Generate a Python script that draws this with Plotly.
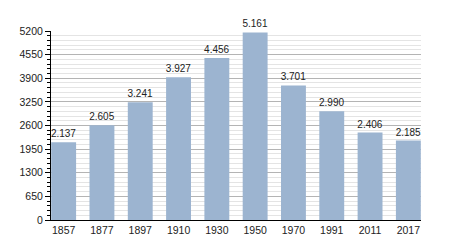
import plotly.graph_objects as go

years = ["1857", "1877", "1897", "1910", "1930", "1950", "1970", "1991", "2011", "2017"]
population = [2137, 2605, 3241, 3927, 4456, 5161, 3701, 2990, 2406, 2185]
y_ticks = [0, 650, 1300, 1950, 2600, 3250, 3900, 4550, 5200]

labels = [f"{v:,}".replace(",", ".") for v in population]

fig = go.Figure(go.Bar(
    x=years, y=population, text=labels, textposition="outside",
    constraintext="none",
    textfont=dict(family="Liberation Sans, Arial, sans-serif", size=10, color="#222"),
    marker=dict(color="#9cb4d0", line=dict(width=0)),
    cliponaxis=False,
))

fig.update_layout(
    width=450, height=250,
    margin=dict(l=51, r=29, t=31, b=30),
    paper_bgcolor="white", plot_bgcolor="white",
    bargap=0.35, showlegend=False,
    font=dict(family="Liberation Sans, Arial, sans-serif", size=10.5, color="#222"),
)
fig.update_xaxes(
    type="category", range=[-0.33, 9.33],
    showline=True, linecolor="black", linewidth=1,
    ticks="", showgrid=False, tickfont=dict(size=10.5),
)
fig.update_yaxes(
    range=[0, 5200], tickvals=y_ticks, ticktext=[str(v) for v in y_ticks],
    showline=True, linecolor="black", linewidth=1,
    ticks="outside", ticklen=5, tickcolor="black",
    showgrid=True, gridcolor="#b4b4b4", gridwidth=1,
    zeroline=False, tickfont=dict(size=10.5),
    minor=dict(dtick=130, tick0=0, showgrid=True, gridcolor="#e4e4e4",
               ticks="outside", ticklen=3, tickcolor="black"),
)

fig.write_html("out.html")
